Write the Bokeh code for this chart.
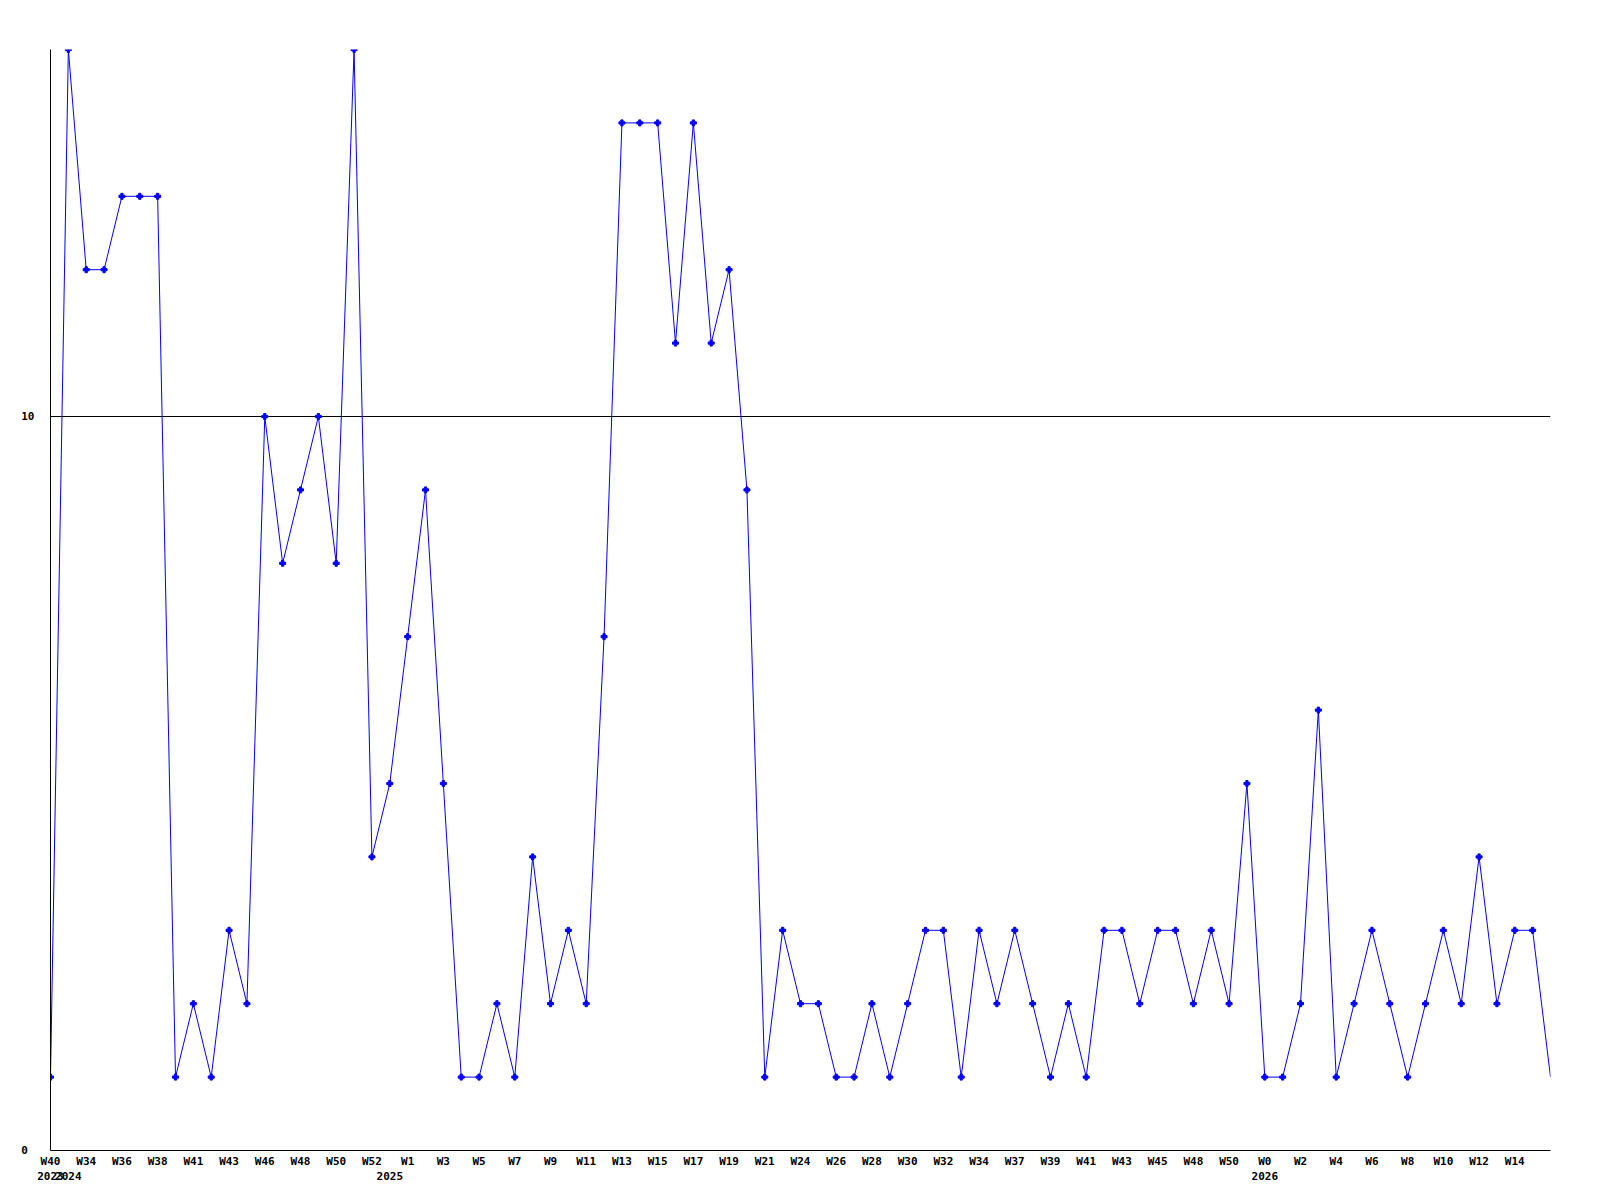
from bokeh.plotting import figure
from bokeh.models import Range1d, FixedTicker, LinearAxis, ColumnDataSource
from bokeh.embed import file_html
from bokeh.resources import INLINE

# weekly counts
values = [1, 15, 12, 12, 13, 13, 13, 1, 2, 1,
          3, 2, 10, 8, 9, 10, 8, 15, 4, 5,
          7, 9, 5, 1, 1, 2, 1, 4, 2, 3,
          2, 7, 14, 14, 14, 11, 14, 11, 12, 9,
          1, 3, 2, 2, 1, 1, 2, 1, 2, 3,
          3, 1, 3, 2, 3, 2, 1, 2, 1, 3,
          3, 2, 3, 3, 2, 3, 2, 5, 1, 1,
          2, 6, 1, 2, 3, 2, 1, 2, 3, 2,
          4, 2, 3, 3, 1]

# week number of each point
weeks = [40, 33, 34, 35, 36, 37, 38, 39, 41, 42,
         43, 44, 46, 47, 48, 49, 50, 51, 52, 0,
         1, 2, 3, 4, 5, 6, 7, 8, 9, 10,
         11, 12, 13, 14, 15, 16, 17, 18, 19, 20,
         21, 22, 24, 25, 26, 27, 28, 29, 30, 31,
         32, 33, 34, 35, 37, 38, 39, 40, 41, 42,
         43, 44, 45, 46, 48, 49, 50, 51, 0, 1,
         2, 3, 4, 5, 6, 7, 8, 9, 10, 11,
         12, 13, 14, 15, 16]

# first point of each year
year_labels = ["2023", "2024", "2025", "2026"]
year_start_index = [0, 1, 19, 68]

y_ticks = [0, 10]

FONT = "DejaVu Sans Mono"
x = list(range(len(values)))

p = figure(frame_width=1500, frame_height=1101,
           output_backend="svg", toolbar_location=None,
           x_range=Range1d(0, len(values) - 1), y_range=Range1d(0, 15),
           min_border_left=50, min_border_top=49,
           min_border_right=42, min_border_bottom=42,
           background_fill_color="white", border_fill_color="white")
p.outline_line_color = None

src = ColumnDataSource(dict(x=x, y=values))
p.line("x", "y", source=src, line_color="#0000FF", line_width=1)
msrc = ColumnDataSource(dict(x=x[:-1], y=values[:-1]))
p.scatter("x", "y", source=msrc, marker="plus", size=6,
          fill_color="#0000FF", line_color="#0000FF", line_width=1)

# y axis
ya = p.yaxis[0]
ya.ticker = FixedTicker(ticks=y_ticks)
ya.major_label_overrides = {0: "0\u00a0"}
ya.axis_line_color = "black"
ya.major_tick_in = 0
ya.major_tick_out = 0
ya.minor_tick_in = 0
ya.minor_tick_out = 0
ya.major_label_standoff = 16
ya.major_label_text_font = FONT
ya.major_label_text_font_style = "bold"
ya.major_label_text_font_size = "11px"
ya.major_label_text_color = "black"

p.xgrid.visible = False
p.ygrid.ticker = FixedTicker(ticks=[10])
p.ygrid.grid_line_color = "black"
p.ygrid.grid_line_alpha = 1.0
p.ygrid.grid_line_width = 1

# x axis: week labels on every other point
xa = p.xaxis[0]
labelled = x[:-1:2]
xa.ticker = FixedTicker(ticks=labelled)
xa.major_label_overrides = {i: f"W{weeks[i]}" for i in labelled}
xa.axis_line_color = "black"
xa.major_tick_in = 0
xa.major_tick_out = 0
xa.minor_tick_in = 0
xa.minor_tick_out = 0
xa.major_label_standoff = 4
xa.major_label_text_font = FONT
xa.major_label_text_font_style = "bold"
xa.major_label_text_font_size = "11px"
xa.major_label_text_color = "black"

# second row: years
ya2 = LinearAxis(ticker=FixedTicker(ticks=year_start_index),
                 major_label_overrides={i: lab for i, lab in zip(year_start_index, year_labels)})
ya2.axis_line_color = None
ya2.major_tick_in = 0
ya2.major_tick_out = 0
ya2.minor_tick_in = 0
ya2.minor_tick_out = 0
ya2.major_label_standoff = 1
ya2.major_label_text_font = FONT
ya2.major_label_text_font_style = "bold"
ya2.major_label_text_font_size = "11px"
ya2.major_label_text_color = "black"
p.add_layout(ya2, "below")

open("out.html", "w").write(file_html(p, INLINE))
